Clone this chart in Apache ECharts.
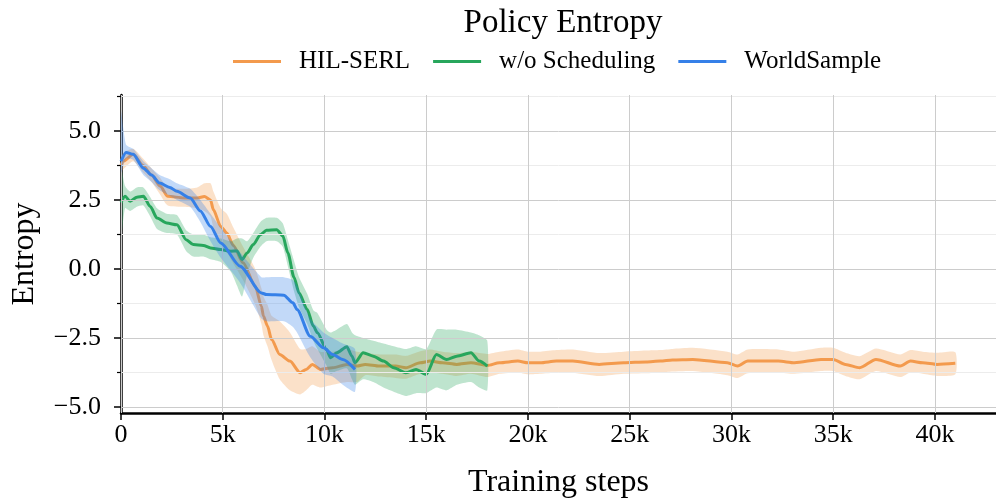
<!DOCTYPE html>
<html>
<head>
<meta charset="utf-8">
<script src="https://cdn.jsdelivr.net/npm/echarts@6/dist/echarts.min.js"></script>
<style>
  html, body { margin: 0; padding: 0; background: #fff; }
  #chart { width: 996px; height: 504px; }
</style>
</head>
<body>
<div id="chart"></div>
<script>
const FONT = 'Liberation Serif';

// tick positions
const xTicks = [0, 5000, 10000, 15000, 20000, 25000, 30000, 35000, 40000];
const yTicks = [-5, -2.5, 0, 2.5, 5];
const yMinorTicks = [-3.75, -1.25, 1.25, 3.75, 6.25];

// HIL-SERL
const hilSteps = [0, 100, 600, 1080, 1500, 1920, 2300, 3100, 3750, 4100, 4400, 4540, 4900, 5200, 5520, 6000, 6600, 6900, 7000, 7200,
  7400, 7800, 8300, 8800, 9100, 9400, 9800, 10400, 11100, 11600, 12000, 12700, 13500, 14000, 14700, 15200, 15800, 16500, 17200, 18000,
  18600, 19500, 20000, 20600, 21400, 22200, 23500, 24700, 25800, 26500, 27100, 28100, 29800, 30300, 30800, 32300, 33100, 34400, 35000, 35600,
  36300, 37100, 38300, 38800, 39400, 40100, 41000];
const hilMean = [3.75, 3.9, 4.15, 3.75, 3.4, 3.0, 2.63, 2.57, 2.57, 2.62, 2.5, 2.14, 1.54, 1.3, 0.85, 0.22, -0.63, -1.35, -1.71, -2.07,
  -2.56, -3.1, -3.34, -3.76, -3.64, -3.46, -3.64, -3.58, -3.46, -3.52, -3.46, -3.52, -3.52, -3.58, -3.4, -3.34, -3.4, -3.46, -3.4, -3.5,
  -3.4, -3.34, -3.4, -3.4, -3.34, -3.34, -3.46, -3.4, -3.37, -3.34, -3.3, -3.28, -3.4, -3.52, -3.34, -3.34, -3.4, -3.28, -3.28, -3.46,
  -3.58, -3.28, -3.52, -3.34, -3.4, -3.46, -3.42];
const hilLow = [3.5, 3.6, 3.9, 3.5, 3.15, 2.7, 2.3, 2.25, 2.2, 2.1, 1.9, 1.5, 0.9, 0.6, 0.2, -0.4, -1.3, -2.0, -2.4, -2.8,
  -3.3, -4.0, -4.4, -4.55, -4.4, -4.2, -4.3, -4.2, -4.1, -4.1, -3.85, -3.9, -3.95, -3.98, -3.8, -3.75, -3.8, -3.88, -3.8, -3.92,
  -3.8, -3.75, -3.82, -3.8, -3.75, -3.76, -3.88, -3.8, -3.78, -3.75, -3.72, -3.7, -3.85, -3.95, -3.78, -3.75, -3.8, -3.7, -3.7, -3.88,
  -4.0, -3.7, -3.92, -3.75, -3.8, -3.88, -3.82];
const hilHigh = [4.0, 4.2, 4.35, 4.0, 3.65, 3.3, 2.95, 2.9, 2.95, 3.1, 3.1, 2.8, 2.2, 2.0, 1.5, 0.8, 0.0, -0.7, -1.0, -1.3,
  -1.7, -1.9, -2.3, -2.9, -2.9, -2.8, -3.0, -3.0, -2.9, -3.0, -3.05, -3.1, -3.1, -3.15, -2.98, -2.92, -3.0, -3.05, -3.0, -3.08,
  -3.0, -2.92, -3.0, -3.0, -2.94, -2.92, -3.05, -3.0, -2.96, -2.94, -2.9, -2.86, -3.0, -3.1, -2.92, -2.92, -3.0, -2.86, -2.86, -3.04,
  -3.16, -2.88, -3.1, -2.94, -3.0, -3.04, -3.02];

// w/o Scheduling
const wosSteps = [0, 200, 450, 780, 1100, 1440, 1770, 2250, 2750, 3200, 3550, 4050, 4400, 4900, 5400, 5700, 5950, 6200, 6500, 6850,
  7150, 7650, 7950, 8200, 8500, 8750, 9150, 9450, 9650, 10100, 10300, 10600, 11100, 11350, 11500, 11900, 12400, 12900, 13400, 14000,
  14500, 15000, 15500, 16000, 16500, 17200, 17600, 18000];
const wosMean = [2.4, 2.63, 2.45, 2.6, 2.63, 2.26, 1.84, 1.66, 1.6, 1.06, 0.88, 0.85, 0.76, 0.7, 0.64, 0.65, 0.34, 0.58, 0.88, 1.24,
  1.4, 1.42, 1.2, 0.58, -0.3, -0.87, -1.47, -2.07, -2.31, -2.92, -3.22, -3.04, -2.82, -3.16, -3.4, -3.04, -3.16, -3.34, -3.58, -3.76,
  -3.64, -3.82, -3.1, -3.28, -3.16, -3.04, -3.34, -3.52];
const wosLow = [1.1, 2.2, 2.1, 2.25, 2.3, 1.9, 1.45, 1.3, 1.25, 0.65, 0.45, 0.45, 0.35, 0.25, -0.1, -0.6, -1.0, -0.2, 0.4, 0.8,
  1.0, 1.0, 0.8, 0.1, -0.8, -1.4, -2.0, -2.6, -2.9, -3.5, -3.8, -3.7, -3.6, -4.0, -4.2, -4.0, -4.1, -4.3, -4.45, -4.6,
  -4.5, -4.5, -4.3, -4.4, -4.2, -4.1, -4.3, -4.4];
const wosHigh = [3.7, 3.0, 2.8, 2.95, 2.95, 2.6, 2.2, 2.0, 1.95, 1.4, 1.25, 1.25, 1.15, 1.1, 1.0, 1.1, 1.1, 1.0, 1.3, 1.7,
  1.85, 1.85, 1.65, 1.05, 0.3, -0.3, -0.9, -1.5, -1.6, -2.2, -2.3, -2.2, -2.0, -2.3, -2.4, -2.5, -2.6, -2.7, -2.8, -2.9,
  -2.8, -2.9, -2.2, -2.2, -2.2, -2.3, -2.4, -2.6];

// WorldSample
const wsSteps = [0, 250, 600, 1100, 1500, 1900, 2400, 2750, 3400, 3900, 4400, 4900, 5850, 6900, 7150, 8000, 8450, 8650, 9300, 9950,
  10400, 10900, 11500];
const wsMean = [3.9, 4.22, 4.15, 3.65, 3.4, 3.11, 2.95, 2.81, 2.57, 2.1, 1.54, 0.94, 0.1, -0.87, -0.93, -0.95, -1.23, -1.47, -2.44, -2.86,
  -3.1, -3.28, -3.64];
const wsLow = [3.5, 4.0, 3.95, 3.4, 3.15, 2.85, 2.65, 2.5, 2.25, 1.7, 1.0, 0.4, -0.5, -1.8, -1.9, -1.9, -2.1, -2.3, -3.2, -3.8,
  -3.9, -4.2, -4.45];
const wsHigh = [5.7, 4.5, 4.35, 3.9, 3.65, 3.4, 3.25, 3.1, 2.9, 2.5, 2.0, 1.5, 0.6, -0.3, -0.3, -0.3, -0.4, -0.6, -1.8, -2.3,
  -2.5, -2.7, -2.9];

const ORANGE = '#f39a4d';
const GREEN = '#27a65c';
const BLUE = '#3580e8';

const chart = echarts.init(document.getElementById('chart'), null, { renderer: 'canvas' });

function bandSeries(steps, low, high, color, z) {
  return {
    type: 'custom',
    silent: true,
    z: z,
    clip: true,
    data: steps.map((s, i) => [s, low[i], high[i]]),
    encode: { x: 0, y: [1, 2] },
    renderItem: function (params, api) {
      if (params.dataIndex !== 0) return;
      const pts = [];
      for (let i = 0; i < steps.length; i++) pts.push(api.coord([steps[i], high[i]]));
      for (let i = steps.length - 1; i >= 0; i--) pts.push(api.coord([steps[i], low[i]]));
      return { type: 'polygon', shape: { points: pts, smooth: 0.2 }, style: { fill: color, opacity: 0.3 } };
    }
  };
}

function lineSeries(name, steps, values, color, z) {
  return {
    name: name,
    type: 'line',
    z: z,
    showSymbol: false,
    silent: true,
    smooth: 0.25,
    smoothMonotone: 'x',
    data: steps.map((s, i) => [s, values[i]]),
    lineStyle: { color: color, width: 3 },
    itemStyle: { color: color },
    emphasis: { disabled: true }
  };
}

const gridLines = [];
yTicks.forEach(v => gridLines.push({ yAxis: v, lineStyle: { color: '#cccccc', width: 1, type: 'solid' } }));
yMinorTicks.forEach(v => gridLines.push({ yAxis: v, lineStyle: { color: '#ececec', width: 1, type: 'solid' } }));
xTicks.forEach(v => gridLines.push({ xAxis: v, lineStyle: { color: '#cccccc', width: 1, type: 'solid' } }));

const tickRich = { t: { fontFamily: FONT, fontSize: 26, color: '#000' } };

const option = {
  animation: false,
  backgroundColor: '#fff',
  textStyle: { fontFamily: FONT },
  title: {
    text: 'Policy Entropy',
    left: 558,
    textAlign: 'center',
    top: 2,
    textStyle: { fontFamily: FONT, fontSize: 33, fontWeight: 'normal', color: '#000' }
  },
  legend: {
    data: ['HIL-SERL', 'w/o Scheduling', 'WorldSample'],
    left: 228,
    top: 44,
    icon: 'rect',
    itemWidth: 48,
    itemHeight: 3,
    itemGap: 23,
    selectedMode: false,
    textStyle: { fontFamily: FONT, fontSize: 25, color: '#000', padding: [0, 0, 0, 13] }
  },
  grid: { left: 121, right: 0, top: 95, bottom: 91 },
  xAxis: {
    type: 'value',
    min: 0,
    max: 43000,
    name: 'Training steps',
    nameLocation: 'middle',
    nameGap: 54,
    nameTextStyle: { fontFamily: FONT, fontSize: 32, color: '#000' },
    axisLine: { show: true, onZero: false, lineStyle: { color: '#000', width: 2.5 } },
    axisTick: { show: true, customValues: xTicks, length: 7, lineStyle: { color: '#000', width: 1.5 } },
    axisLabel: {
      customValues: xTicks,
      margin: 9,
      fontFamily: FONT, fontSize: 26, color: '#000',
      rich: tickRich,
      formatter: v => '{t|' + (v === 0 ? '0' : (v / 1000) + 'k') + '}'
    },
    splitLine: { show: false }
  },
  yAxis: [{
    type: 'value',
    min: -5.22,
    max: 6.3,
    name: 'Entropy',
    nameLocation: 'middle',
    nameGap: 80,
    nameTextStyle: { fontFamily: FONT, fontSize: 32, color: '#000' },
    axisLine: { show: true, onZero: false, lineStyle: { color: '#000', width: 2.5 } },
    axisTick: { show: true, customValues: yTicks, length: 7, lineStyle: { color: '#000', width: 1.5 } },
    axisLabel: {
      customValues: yTicks,
      margin: 20,
      fontFamily: FONT, fontSize: 26, color: '#000',
      rich: tickRich,
      formatter: v => '{t|' + v.toFixed(1).replace('-', '\u2212') + '}'
    },
    splitLine: { show: false }
  }, {
    type: 'value',
    position: 'left',
    min: -5.22,
    max: 6.3,
    axisLine: { show: false },
    axisTick: { show: true, customValues: yMinorTicks, length: 4, lineStyle: { color: '#000', width: 1.2 } },
    axisLabel: { show: false },
    splitLine: { show: false }
  }],
  series: [
    {
      type: 'line',
      data: [],
      silent: true,
      z: 0,
      markLine: { symbol: 'none', silent: true, animation: false, label: { show: false }, data: gridLines }
    },
    bandSeries(hilSteps, hilLow, hilHigh, ORANGE, 1),
    lineSeries('HIL-SERL', hilSteps, hilMean, ORANGE, 2),
    bandSeries(wosSteps, wosLow, wosHigh, GREEN, 3),
    lineSeries('w/o Scheduling', wosSteps, wosMean, GREEN, 4),
    bandSeries(wsSteps, wsLow, wsHigh, BLUE, 5),
    lineSeries('WorldSample', wsSteps, wsMean, BLUE, 6)
  ]
};

chart.setOption(option);
</script>
</body>
</html>
